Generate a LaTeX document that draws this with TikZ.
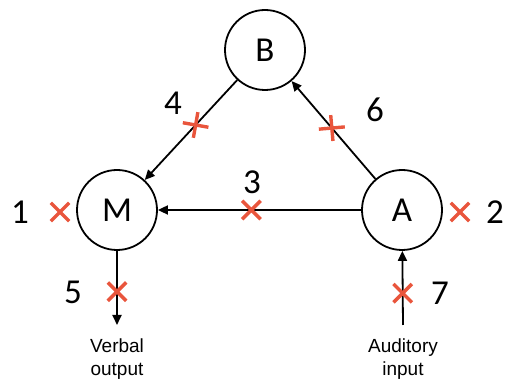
\documentclass[tikz,border=0pt]{standalone}
\usepackage{fontspec}
\setmainfont{Carlito}
\newfontfamily\arialf{Liberation Sans}
\usetikzlibrary{arrows.meta,shapes.misc}
\definecolor{xred}{RGB}{233,85,60}
\begin{document}
\begin{tikzpicture}[x=1pt,y=1pt,
  circ/.style={circle,draw=black,line width=1.8pt,minimum size=80pt,inner sep=0pt,font=\fontsize{35}{38}\selectfont},
  lbl/.style={font=\fontsize{35}{38}\selectfont,inner sep=0pt},
  io/.style={font=\arialf\fontsize{19}{23}\selectfont,align=center,inner sep=0pt},
  xm/.style={cross out,draw=xred,line width=3.4pt,minimum size=15pt,inner sep=0pt},
  conn/.style={line width=1.8pt,-{Triangle[length=10pt,width=9pt]}}]
\useasboundingbox (0,0) rectangle (509,382);
\node[circ] (B) at (265,332) {B};
\node[circ] (M) at (117,172) {M};
\node[circ] (A) at (402,172) {A};
\coordinate (Mout) at (117,57);
\coordinate (Ain) at (403,57);
\draw[conn] (B) -- (M) node[xm,pos=0.45,rotate=35] (x4) {};
\draw[conn] (A) -- (B) node[xm,pos=0.52,rotate=50] (x6) {};
\draw[conn] (A) -- (M) node[xm,pos=0.54] (x3) {};
\draw[conn] (M) -- (Mout) node[xm,pos=0.55] (x5) {};
\draw[conn] (Ain) -- (A) node[xm,pos=0.43] (x7) {};
\node[xm] (x1) at (60,170) {};
\node[xm] (x2) at (460,170) {};
\node[lbl] (l1) at (20,170) {1};
\node[lbl] (l2) at (495,170) {2};
\node[lbl] (l3) at (252,200) {3};
\node[lbl] (l4) at (173,279) {4};
\node[lbl] (l5) at (73,90) {5};
\node[lbl] (l6) at (375,272) {6};
\node[lbl] (l7) at (440,89) {7};
\node[io] (vo) at (117,23) {Verbal\\output};
\node[io] (ai) at (403,23) {Auditory\\input};
\end{tikzpicture}
\end{document}
